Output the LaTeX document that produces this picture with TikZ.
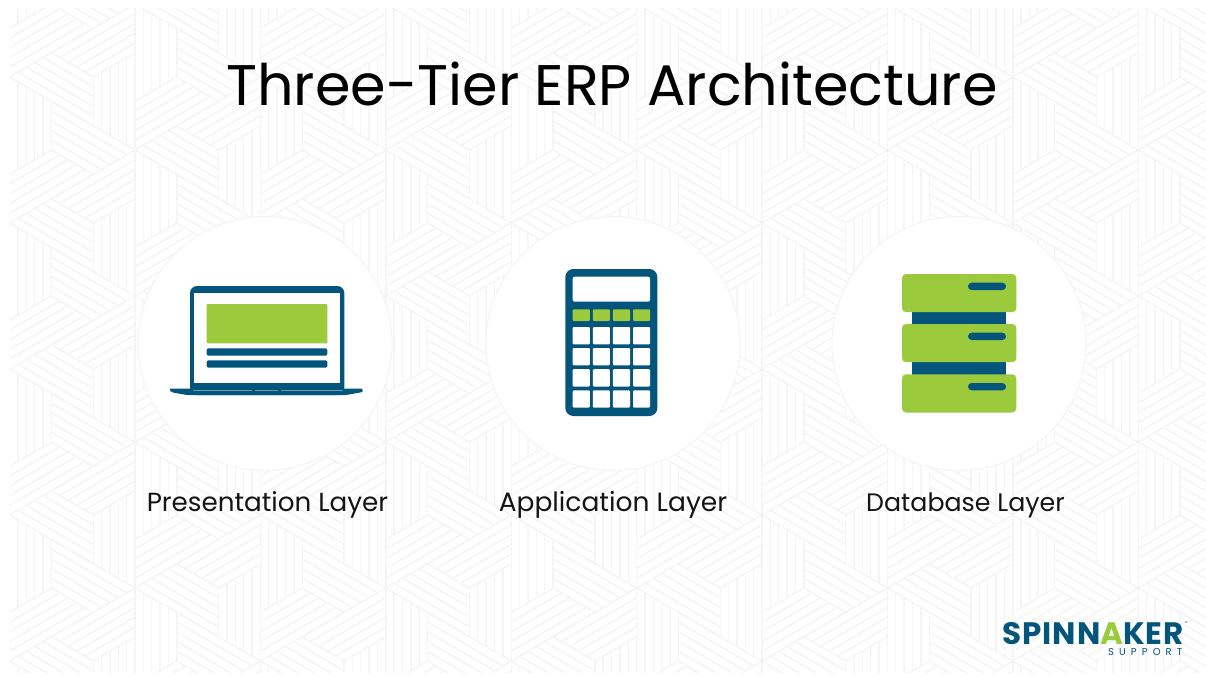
\documentclass[tikz,border=0pt]{standalone}
\usepackage{fontspec}
\setmainfont{Poppins}
\newfontfamily\logofont[LetterSpace=3]{Poppins}
\newfontfamily\subfont[LetterSpace=51]{Poppins}
\definecolor{teal}{HTML}{04557B}
\definecolor{leaf}{HTML}{9BCA3C}
\definecolor{weave}{HTML}{F5F5F5}
\tikzset{
  weaveline/.style={draw=weave,line width=1.4pt},
  layerlabel/.style={anchor=base,text=black!92,font=\fontsize{#1}{31}\selectfont},
  disc/.style={fill=white,draw=weave,line width=1.2pt}
}
\begin{document}
\begin{tikzpicture}[x=1pt,y=-1pt]
  \useasboundingbox (0,0) rectangle (1206,675);
  \fill[white] (0,0) rectangle (1206,675);
  \begin{scope}
    \clip (10,8) rectangle (1206,672);
    \foreach \n in {-1,...,10} \foreach \m in {-5,...,4} {
      \pgfmathsetmacro{\cx}{135+125.4*(\n-1)}
      \pgfmathsetmacro{\cy}{150+73*(\n-1)+146*\m}
      \foreach \ax/\ay/\bx/\by in {0/2/1/1,1/1/1/-1,1/-1/0/-2,0/-2/-1/-1,-1/-1/-1/1,-1/1/0/2} \foreach \t in {0,0.2,0.4,0.6,0.8,1} {
        \draw[weaveline] ({\cx+41.8*\t*\bx},{\cy+24.33*\t*\by}) -- ({\cx+41.8*(2*\ax+\t*(\bx-\ax))},{\cy+24.33*(2*\ay+\t*(\by-\ay))});
      }
    }
  \end{scope}
  \foreach \x in {265,613,959} \draw[disc] (\x,343.5) circle (127);
  % laptop
  \fill[teal,rounded corners=7pt] (190,286) rectangle (344.3,395);
  \fill[white] (194.3,293.3) rectangle (340.3,383.3);
  \fill[leaf,rounded corners=1pt] (206.7,304) rectangle (327.3,343.3);
  \fill[teal,rounded corners=2pt] (206.7,348.3) rectangle (327.3,355.7);
  \fill[teal,rounded corners=2pt] (206.7,360.3) rectangle (327.3,367.7);
  \fill[teal] (170,389.5) [rounded corners=1pt] -- (170,388.7) -- (362.7,388.7) -- (362.7,392) [rounded corners=3pt] -- (345,395.2) -- (188,395.2) -- (170,392) -- cycle;
  \draw[teal!60,line width=0.8pt] (193,390.5) -- (252,390.5) (254.5,390.5) -- (278,390.5) (281,390.5) -- (343,390.5);
  % calculator
  \fill[teal,rounded corners=8pt] (565.3,269) rectangle (657.3,416);
  \fill[white,rounded corners=2pt] (572.7,276.7) rectangle (650,301.7);
  \foreach \x in {572.7,592.8,612.9,633} {
    \fill[leaf,rounded corners=1pt] (\x,309.3) rectangle (\x+17.1,321);
    \foreach \y in {327,348,369.2,390.3} \fill[white,rounded corners=1pt] (\x,\y) rectangle (\x+17.1,\y+17.3);
  }
  % server
  \fill[teal] (912.3,311) rectangle (1006,375);
  \foreach \y in {274,324,374.3} {
    \fill[leaf,rounded corners=4pt] (902,\y) rectangle (1016.3,\y+38.2);
    \fill[teal,rounded corners=3.6pt] (968,\y+8.7) rectangle (1006,\y+16);
  }
  \node[anchor=base,font=\fontsize{57.2}{70}\selectfont] (title) at (612,105) {Three-Tier ERP Architecture};
  \node[layerlabel=26.2] (presentation) at (267.5,511) {Presentation Layer};
  \node[layerlabel=26.5] (application) at (613,511) {Application Layer};
  \node[layerlabel=25.3] (database) at (965.5,511) {Database Layer};
  % logo
  \node[anchor=base east,inner sep=0,text=teal,text depth=0pt,font=\logofont\bfseries\fontsize{31}{36}\selectfont] (spinnaker) at (1184,644.3) {SPINN{\color{leaf}A}KER};
  \node[anchor=base east,inner sep=0,text=teal,text height=6pt,font=\subfont\fontsize{10}{12}\selectfont] (support) at (1182.5,655) {SUPPORT};
  \node[anchor=base west,inner sep=0,text=teal,font=\fontsize{4}{5}\selectfont] (tm) at (1184.5,624.5) {™};
\end{tikzpicture}
\end{document}
